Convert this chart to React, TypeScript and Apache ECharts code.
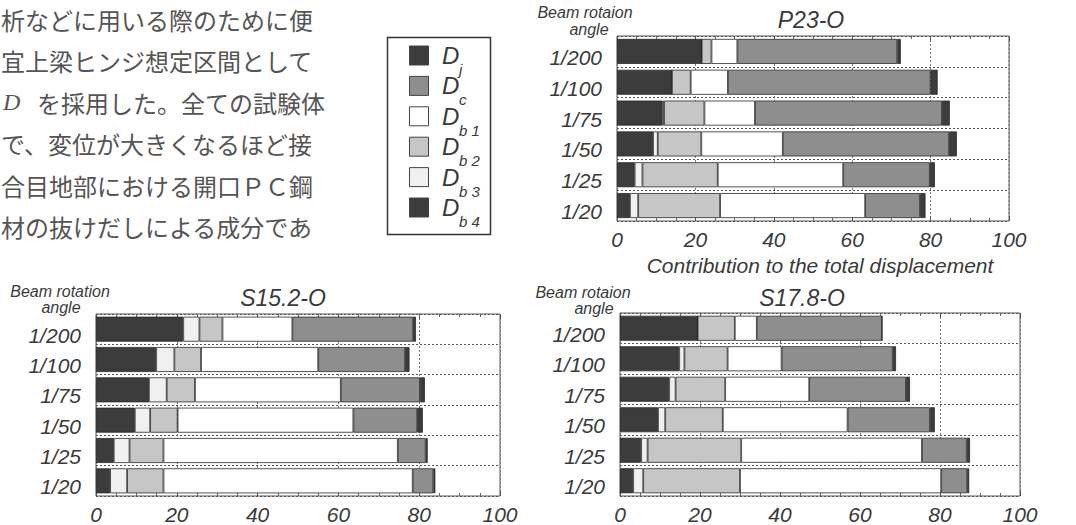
import React, { useEffect, useRef } from "react";
import * as echarts from "echarts";

// ---- data ----
const categories = ["1/200", "1/100", "1/75", "1/50", "1/25", "1/20"];
const xTicks = [0, 20, 40, 60, 80, 100];

// P23-O (segments left -> right)
const p23_b4 = [21.6, 14.0, 11.6, 9.2, 4.5, 3.3];
const p23_b3 = [0, 0, 0.4, 1.2, 2.0, 2.1];
const p23_b2 = [2.5, 4.8, 10.3, 11.1, 19.2, 20.9];
const p23_b1 = [6.6, 9.5, 12.9, 20.8, 32.0, 37.0];
const p23_c = [40.8, 51.7, 47.7, 42.4, 22.1, 14.0];
const p23_j = [0.9, 1.8, 2.0, 2.0, 1.3, 1.4];

// S15.2-O
const s152_b4 = [21.6, 14.9, 13.1, 9.6, 4.4, 3.5];
const s152_b3 = [4.0, 4.5, 4.4, 3.8, 3.9, 4.2];
const s152_b2 = [5.7, 6.6, 7.0, 6.8, 8.4, 9.0];
const s152_b1 = [17.3, 29.0, 36.1, 43.5, 58.0, 61.7];
const s152_c = [29.9, 21.5, 19.6, 15.8, 6.9, 5.1];
const s152_j = [0.7, 1.1, 1.2, 1.4, 0.5, 0.5];

// S17.8-O
const s178_b4 = [19.4, 14.8, 12.3, 9.5, 5.3, 3.3];
const s178_b3 = [0, 1.3, 1.6, 1.8, 1.6, 2.5];
const s178_b2 = [9.3, 10.8, 12.4, 14.4, 23.4, 24.2];
const s178_b1 = [5.5, 13.5, 21.0, 31.2, 45.2, 50.3];
const s178_c = [31.3, 27.8, 24.2, 20.6, 11.2, 6.5];
const s178_j = [0, 0.8, 1.0, 1.2, 0.8, 0.5];

const legendKeys = ["j", "c", "b1", "b2", "b3", "b4"];
const textLines = [
  "析などに用いる際のために便",
  "宜上梁ヒンジ想定区間として",
  "を採用した。全ての試験体",
  "で、変位が大きくなるほど接",
  "合目地部における開口ＰＣ鋼",
  "材の抜けだしによる成分であ",
];

const COLORS: Record<string, string> = {
  j: "#3c3c3c",
  c: "#8e8e8e",
  b1: "#ffffff",
  b2: "#c6c6c6",
  b3: "#f0f0f0",
  b4: "#3c3c3c",
};

const FONT = "'Liberation Sans', Arial, Helvetica, sans-serif";
const TXT = "#3a3a3a";

export default function App() {
  const ref = useRef<HTMLDivElement>(null);
  useEffect(() => {
    if (!ref.current) return;
    const chart = echarts.init(ref.current, null, { renderer: "svg" });

    const grids = [
      { left: 617, top: 36, width: 392, height: 185 },
      { left: 96, top: 314, width: 404, height: 183 },
      { left: 620, top: 313, width: 400, height: 184 },
    ];
    const panels = [
      { title: "P23-O", data: { b4: p23_b4, b3: p23_b3, b2: p23_b2, b1: p23_b1, c: p23_c, j: p23_j } },
      { title: "S15.2-O", data: { b4: s152_b4, b3: s152_b3, b2: s152_b2, b1: s152_b1, c: s152_c, j: s152_j } },
      { title: "S17.8-O", data: { b4: s178_b4, b3: s178_b3, b2: s178_b2, b1: s178_b1, c: s178_c, j: s178_j } },
    ];

    const xAxes: any[] = [];
    const yAxes: any[] = [];
    const series: any[] = [];
    grids.forEach((g, i) => {
      const common = {
        type: "value",
        gridIndex: i,
        min: 0,
        max: 100,
        interval: 20,
        axisLine: { show: false },
        axisTick: { show: true, inside: true, length: 5, lineStyle: { color: "#555" } },
        minorTick: { show: true, splitNumber: 4, length: 3, lineStyle: { color: "#666" } },
      };
      xAxes.push({
        ...common,
        position: "bottom",
        axisLabel: {
          show: true,
          margin: 8,
          fontSize: 21,
          fontStyle: "italic",
          fontFamily: FONT,
          color: TXT,
          formatter: (v: number) => (xTicks.includes(v) ? String(v) : ""),
        },
        splitLine: { show: true, lineStyle: { type: [2, 2], color: "#777", width: 1 } },
      });
      xAxes.push({
        ...common,
        position: "top",
        axisLabel: { show: false },
        splitLine: { show: false },
      });
      yAxes.push({
        type: "category",
        gridIndex: i,
        data: categories,
        inverse: true,
        axisLine: { show: false },
        axisTick: { show: false },
        axisLabel: {
          margin: 15,
          fontSize: 21,
          fontStyle: "italic",
          fontFamily: FONT,
          color: TXT,
          verticalAlign: "top",
          lineHeight: 12,
        },
        splitLine: { show: true, lineStyle: { type: [2, 2], color: "#555", width: 1 } },
      });
      const order = ["b4", "b3", "b2", "b1", "c", "j"];
      order.forEach((k) => {
        series.push({
          type: "bar",
          name: "D_" + k,
          xAxisIndex: i * 2,
          yAxisIndex: i,
          stack: "p" + i,
          barWidth: 25,
          data: (panels[i].data as any)[k],
          itemStyle: { color: COLORS[k], borderColor: "#2a2a2a", borderWidth: 0.8 },
          emphasis: { disabled: true },
        });
      });
    });

    const graphics: any[] = [];
    // titles
    const titlePos = [
      [811, 20],
      [283, 298],
      [802, 298],
    ];
    panels.forEach((p, i) => {
      graphics.push({
        type: "text",
        x: titlePos[i][0],
        y: titlePos[i][1],
        style: {
          text: p.title,
          align: "center",
          verticalAlign: "middle",
          font: `italic 23px ${FONT}`,
          fill: TXT,
        },
      });
    });
    // axis titles "Beam rotation angle"
    const beam = [
      { t: "Beam rotaion", x: 585, y: 12 },
      { t: "angle", x: 589, y: 29 },
      { t: "Beam rotation", x: 60, y: 291 },
      { t: "angle", x: 61, y: 307 },
      { t: "Beam rotaion", x: 583, y: 292 },
      { t: "angle", x: 594, y: 308 },
    ];
    beam.forEach((b) => {
      graphics.push({
        type: "text",
        x: b.x,
        y: b.y,
        style: { text: b.t, align: "center", verticalAlign: "middle", font: `italic 16px ${FONT}`, fill: TXT },
      });
    });
    graphics.push({
      type: "text",
      x: 820,
      y: 265,
      style: {
        text: "Contribution to the total displacement",
        align: "center",
        verticalAlign: "middle",
        font: `italic 21px ${FONT}`,
        fill: TXT,
      },
    });
    // legend box
    graphics.push({
      type: "rect",
      shape: { x: 387.5, y: 37.5, width: 103, height: 197 },
      style: { fill: "none", stroke: "#333", lineWidth: 1.5 },
    });
    legendKeys.forEach((k, idx) => {
      const cy = 55.5 + idx * 30.4;
      graphics.push({
        type: "rect",
        shape: { x: 409.5, y: cy - 9.5, width: 19, height: 19 },
        style: { fill: COLORS[k], stroke: "#444", lineWidth: 1 },
      });
      graphics.push({
        type: "text",
        x: 442,
        y: cy,
        style: { text: "D", align: "left", verticalAlign: "middle", font: `italic 24px ${FONT}`, fill: TXT },
      });
      graphics.push({
        type: "text",
        x: 459,
        y: cy + 14,
        style: {
          text: k.split("").join(" "),
          align: "left",
          verticalAlign: "middle",
          font: `italic 15px ${FONT}`,
          fill: TXT,
        },
      });
    });
    // Japanese paragraph text
    textLines.forEach((line, idx) => {
      const y = 19 + idx * 41.5;
      if (idx === 2) {
        graphics.push({
          type: "text",
          x: 3,
          y,
          style: { text: "D", align: "left", verticalAlign: "middle", font: `italic 24px 'Liberation Serif', serif`, fill: "#555" },
        });
        graphics.push({
          type: "text",
          x: 37,
          y,
          style: { text: line, align: "left", verticalAlign: "middle", font: `24px 'Noto Sans CJK JP'`, fill: "#555" },
        });
      } else {
        graphics.push({
          type: "text",
          x: 1,
          y,
          style: { text: line, align: "left", verticalAlign: "middle", font: `24px 'Noto Sans CJK JP'`, fill: "#555" },
        });
      }
    });

    chart.setOption({
      animation: false,
      backgroundColor: "#fff",
      grid: grids.map((g) => ({ ...g, show: true, borderColor: "#555", borderWidth: 1, backgroundColor: "transparent" })),
      xAxis: xAxes,
      yAxis: yAxes,
      series,
      graphic: graphics,
    });
    return () => chart.dispose();
  }, []);
  return (
    <div
      ref={ref}
      style={{ position: "fixed", left: 0, top: 0, width: 1076, height: 525, background: "#fff" }}
    />
  );
}
